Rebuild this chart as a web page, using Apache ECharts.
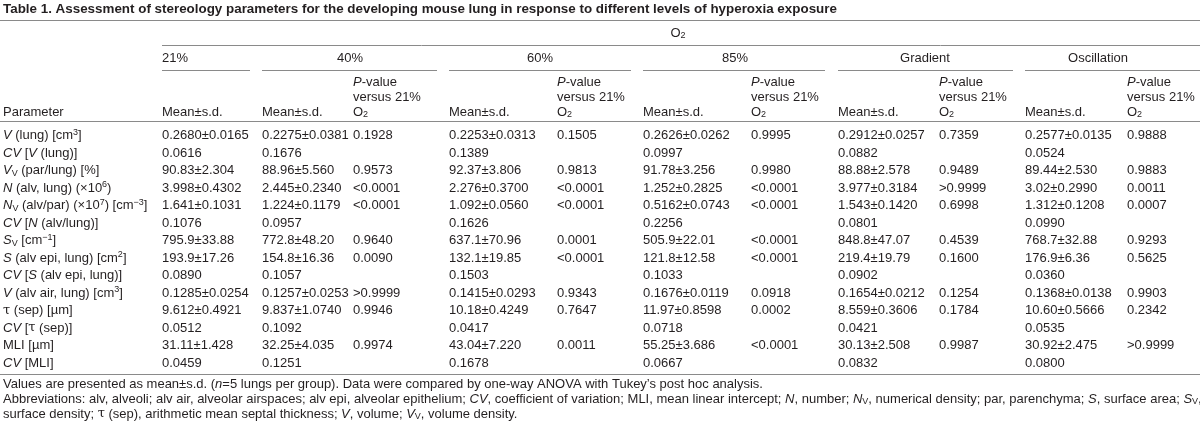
<!DOCTYPE html>
<html><head><meta charset="utf-8">
<script src="https://cdn.jsdelivr.net/npm/echarts@6/dist/echarts.min.js"></script>
<style>html,body{margin:0;padding:0;background:#fff}#c{width:1200px;height:424px}</style>
</head><body><div id="c"></div><script>
// ---------- DATA ----------
const title = 'Table 1. Assessment of stereology parameters for the developing mouse lung in response to different levels of hyperoxia exposure';
const groups = ['21%', '40%', '60%', '85%', 'Gradient', 'Oscillation'];
const parameters = [
  '{i|V} (lung) [cm{sup|3}]',
  '{i|CV} [{i|V} (lung)]',
  '{i|V}{sub|V} (par/lung) [%]',
  '{i|N} (alv, lung) (×10{sup|6})',
  '{i|N}{sub|V} (alv/par) (×10{sup|7}) [cm{sup|−3}]',
  '{i|CV} [{i|N} (alv/lung)]',
  '{i|S}{sub|V} [cm{sup|−1}]',
  '{i|S} (alv epi, lung) [cm{sup|2}]',
  '{i|CV} [{i|S} (alv epi, lung)]',
  '{i|V} (alv air, lung) [cm{sup|3}]',
  '{tau|τ} (sep) [µm]',
  '{i|CV} [{tau|τ} (sep)]',
  'MLI [µm]',
  '{i|CV} [MLI]'
];
const mean21 = ['0.2680±0.0165','0.0616','90.83±2.304','3.998±0.4302','1.641±0.1031','0.1076','795.9±33.88','193.9±17.26','0.0890','0.1285±0.0254','9.612±0.4921','0.0512','31.11±1.428','0.0459'];
const mean40 = ['0.2275±0.0381','0.1676','88.96±5.560','2.445±0.2340','1.224±0.1179','0.0957','772.8±48.20','154.8±16.36','0.1057','0.1257±0.0253','9.837±1.0740','0.1092','32.25±4.035','0.1251'];
const p40    = ['0.1928','','0.9573','<0.0001','<0.0001','','0.9640','0.0090','','>0.9999','0.9946','','0.9974',''];
const mean60 = ['0.2253±0.0313','0.1389','92.37±3.806','2.276±0.3700','1.092±0.0560','0.1626','637.1±70.96','132.1±19.85','0.1503','0.1415±0.0293','10.18±0.4249','0.0417','43.04±7.220','0.1678'];
const p60    = ['0.1505','','0.9813','<0.0001','<0.0001','','0.0001','<0.0001','','0.9343','0.7647','','0.0011',''];
const mean85 = ['0.2626±0.0262','0.0997','91.78±3.256','1.252±0.2825','0.5162±0.0743','0.2256','505.9±22.01','121.8±12.58','0.1033','0.1676±0.0119','11.97±0.8598','0.0718','55.25±3.686','0.0667'];
const p85    = ['0.9995','','0.9980','<0.0001','<0.0001','','<0.0001','<0.0001','','0.0918','0.0002','','<0.0001',''];
const meanGrad = ['0.2912±0.0257','0.0882','88.88±2.578','3.977±0.3184','1.543±0.1420','0.0801','848.8±47.07','219.4±19.79','0.0902','0.1654±0.0212','8.559±0.3606','0.0421','30.13±2.508','0.0832'];
const pGrad    = ['0.7359','','0.9489','>0.9999','0.6998','','0.4539','0.1600','','0.1254','0.1784','','0.9987',''];
const meanOsc  = ['0.2577±0.0135','0.0524','89.44±2.530','3.02±0.2990','1.312±0.1208','0.0990','768.7±32.88','176.9±6.36','0.0360','0.1368±0.0138','10.60±0.5666','0.0535','30.92±2.475','0.0800'];
const pOsc     = ['0.9888','','0.9883','0.0011','0.0007','','0.9293','0.5625','','0.9903','0.2342','','>0.9999',''];
const footnotes = [
  'Values are presented as mean±s.d. ({i|n}=5 lungs per group). Data were compared by one-way ANOVA with Tukey\u2019s post hoc analysis.',
  'Abbreviations: alv, alveoli; alv air, alveolar airspaces; alv epi, alveolar epithelium; {i|CV}, coefficient of variation; MLI, mean linear intercept; {i|N}, number; {i|N}{sub|V}, numerical density; par, parenchyma; {i|S}, surface area; {i|S}{sub|V},',
  'surface density; {tau|τ} (sep), arithmetic mean septal thickness; {i|V}, volume; {i|V}{sub|V}, volume density.'
];

// ---------- LAYOUT / STYLE ----------
const FONT = '"Liberation Sans", Arial, Helvetica, sans-serif';
const SERIF = '"DejaVu Serif", "Liberation Serif", serif';
const INK = '#231f20';
const RULE = '#8a8a8a';
const FS = 13;
const RICH = {
  i:   {fontStyle: 'italic', fontSize: FS, fontFamily: FONT, fill: INK},
  sup: {fontSize: 9, fontFamily: FONT, fill: INK, verticalAlign: 'top', lineHeight: 9},
  sub: {fontSize: 9, fontFamily: FONT, fill: INK, verticalAlign: 'bottom', lineHeight: 9},
  tau: {fontSize: FS, fontFamily: SERIF, fill: INK}
};
const COL_X = [3, 162, 262, 353, 449, 557, 643, 751, 838, 939, 1025, 1127];
const columns = [parameters, mean21, mean40, p40, mean60, p60, mean85, p85, meanGrad, pGrad, meanOsc, pOsc];
const ROW_H = 17.5, FIRST_ROW = 135.5;

const cells = [];
columns.forEach((col, c) => col.forEach((t, r) => { if (t) cells.push({x: COL_X[c], row: r, text: t}); }));

function txt(x, y, text, opts) {
  opts = opts || {};
  return {type: 'text', x: x, y: y, silent: true, style: Object.assign({
    text: text, rich: RICH, fontSize: FS, fontFamily: FONT, fill: INK,
    align: 'left', verticalAlign: 'middle', lineHeight: 15
  }, opts)};
}
function hline(x1, x2, y) {
  return {type: 'line', silent: true, shape: {x1: x1, y1: y, x2: x2, y2: y}, style: {stroke: RULE, lineWidth: 1}};
}

const graphics = [];
graphics.push(txt(3, 9, title, {fontWeight: 'bold', fontSize: 13.4}));
graphics.push(hline(0, 1200, 20.5));
graphics.push(txt(678, 33, 'O{sub|2}', {align: 'center'}));
graphics.push(hline(162, 1200, 45.5));
const groupCenters = [null, 350, 540, 735, 925, 1098];
const groupSpans = [[162, 250], [262, 437], [449, 631], [643, 825], [838, 1013], [1025, 1200]];
groups.forEach((g, k) => {
  if (k === 0) graphics.push(txt(162, 58, g));
  else graphics.push(txt(groupCenters[k], 58, g, {align: 'center'}));
  graphics.push(hline(groupSpans[k][0], groupSpans[k][1], 70.5));
});
graphics.push(txt(3, 112, 'Parameter'));
[1, 2, 4, 6, 8, 10].forEach(c => graphics.push(txt(COL_X[c], 112, 'Mean±s.d.')));
[3, 5, 7, 9, 11].forEach(c => {
  graphics.push(txt(COL_X[c], 82, '{i|P}-value'));
  graphics.push(txt(COL_X[c], 97, 'versus 21%'));
  graphics.push(txt(COL_X[c], 112, 'O{sub|2}'));
});
graphics.push(hline(0, 1200, 121.5));
graphics.push(hline(0, 1200, 374.5));
footnotes.forEach((f, k) => graphics.push(txt(3, 384 + k * 15, f)));

const chart = echarts.init(document.getElementById('c'), null, {renderer: 'canvas'});
chart.setOption({
  animation: false,
  backgroundColor: '#fff',
  grid: {left: 0, right: 0, top: FIRST_ROW - ROW_H / 2, height: ROW_H * parameters.length},
  xAxis: {type: 'value', min: 0, max: 1200, show: false},
  yAxis: {type: 'category', inverse: true, data: parameters.map((_, i) => i), show: false},
  graphic: {elements: graphics},
  series: [{
    type: 'custom',
    coordinateSystem: 'cartesian2d',
    data: cells.map(c => [c.x, c.row]),
    renderItem: function (params, api) {
      const c = cells[params.dataIndex];
      const p = api.coord([api.value(0), api.value(1)]);
      return {type: 'text', x: p[0], y: p[1], silent: true, style: {
        text: c.text, rich: RICH, fontSize: FS, fontFamily: FONT, fill: INK,
        align: 'left', verticalAlign: 'middle', lineHeight: 15
      }};
    }
  }]
});
</script></body></html>
